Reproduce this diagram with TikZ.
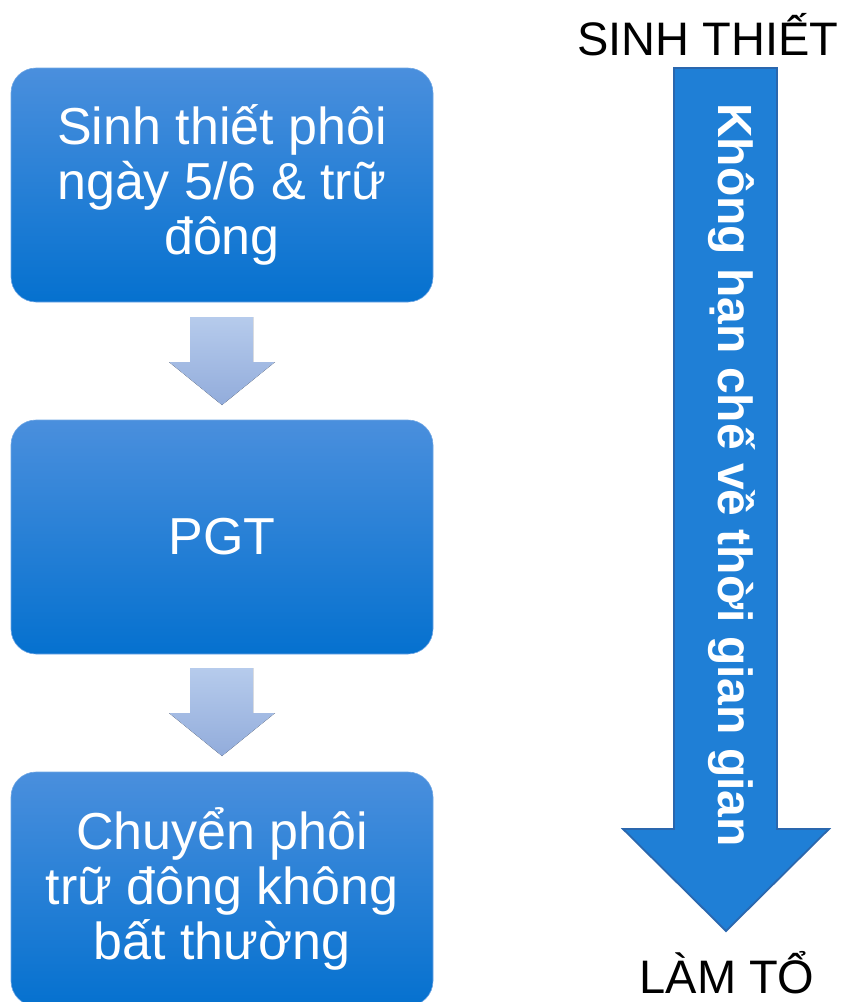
\documentclass[tikz,border=0pt]{standalone}
\usepackage{fontspec}
\setmainfont{Liberation Sans}
\definecolor{boxtop}{HTML}{4A8FDD}
\definecolor{boxbot}{HTML}{0571CF}
\definecolor{boxedge}{HTML}{6FA6E4}
\definecolor{stepup}{HTML}{B6CBEC}
\definecolor{stepdown}{HTML}{92ACDB}
\definecolor{bigfill}{HTML}{1F7FD6}
\definecolor{bigedge}{HTML}{2A67AE}
\tikzset{
  stagebox/.style={rounded corners=25pt, top color=boxtop, bottom color=boxbot,
    draw=boxedge, line width=0.6pt, minimum width=422pt, minimum height=234pt,
    text=white, align=center, inner sep=0pt,
    font=\fontsize{52}{55}\selectfont},
  flowarrow/.style={top color=stepup, bottom color=stepdown},
  endlabel/.style={font=\fontsize{47}{50}\selectfont, text=black, inner sep=0pt},
}
\begin{document}
\begin{tikzpicture}[x=1pt, y=-1pt]
  \useasboundingbox (0,0) rectangle (846,1002);

  % the three stages
  \node[stagebox] (biopsy) at (222,185) {Sinh thiết phôi\\ngày 5/6 \& trữ\\đông};
  \node[stagebox] (pgt) at (222,537) {PGT};
  \node[stagebox] (transfer) at (222,889) {Chuyển phôi\\trữ đông không\\bất thường};

  % block arrows between the stages
  \fill[flowarrow] (190,317) -- (253,317) -- (253,362) -- (275,362) -- (222,405)
    -- (169,362) -- (190,362) -- cycle;
  \fill[flowarrow] (190,668) -- (253,668) -- (253,713) -- (275,713) -- (222,756)
    -- (169,713) -- (190,713) -- cycle;

  % time-line arrow on the right
  \filldraw[fill=bigfill, draw=bigedge, line width=1.8pt, line join=miter]
    (674,68) -- (777,68) -- (777,829) -- (829,829) -- (726,931)
    -- (623,829) -- (674,829) -- cycle;
  \node[rotate=-90, anchor=base, text=white, inner sep=0pt,
        font=\fontsize{48}{50}\selectfont\bfseries] (span) at (718,475)
    {Không hạn chế về thời gian gian};

  \node[endlabel, anchor=base] (start) at (708,55) {SINH THIẾT};
  \node[endlabel, anchor=base] (finish) at (727,993) {LÀM TỔ};
\end{tikzpicture}
\end{document}
